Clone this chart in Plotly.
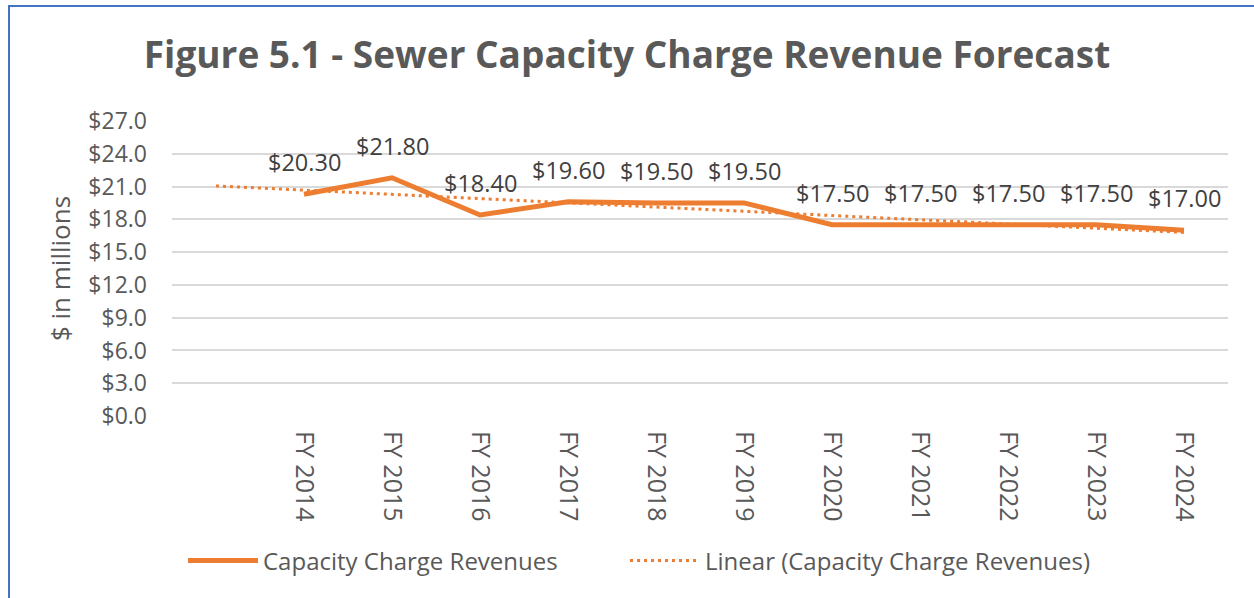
import plotly.graph_objects as go

categories = ["FY 2014", "FY 2015", "FY 2016", "FY 2017", "FY 2018", "FY 2019",
              "FY 2020", "FY 2021", "FY 2022", "FY 2023", "FY 2024"]
revenues = [20.30, 21.80, 18.40, 19.60, 19.50, 19.50, 17.50, 17.50, 17.50, 17.50, 17.00]
# Linear trendline endpoints (blank slot before FY 2014 to FY 2024)
trend_positions = [0, 11]
trend_values = [21.06, 16.80]
y_ticks = [0, 3, 6, 9, 12, 15, 18, 21, 24, 27]

ORANGE = "#ED7D31"
GRAY = "#595959"
FONT = "Open Sans"
NBSP = "\u00a0"

x_pos = list(range(1, len(categories) + 1))

fig = go.Figure()
fig.add_trace(go.Scatter(
    x=x_pos, y=revenues, mode="lines",
    name="Capacity Charge Revenues" + NBSP * 10,
    line=dict(color=ORANGE, width=5),
))
fig.add_trace(go.Scatter(
    x=trend_positions, y=trend_values, mode="lines",
    name="Linear (Capacity Charge Revenues)",
    line=dict(color=ORANGE, width=3, dash="3px,4px"),
))

for xp, v in zip(x_pos, revenues):
    fig.add_annotation(x=xp, y=v, text=f"${v:.2f}", showarrow=False, yshift=32,
                       font=dict(family=FONT, size=23.5, color="#404040"))

fig.update_layout(
    width=1254, height=598,
    margin=dict(l=172, r=26, t=121, b=182),
    paper_bgcolor="white", plot_bgcolor="white",
    font=dict(family=FONT, color=GRAY),
    title=dict(text="<b>Figure 5.1 - Sewer Capacity Charge Revenue Forecast</b>",
               x=0.5, xref="container", xanchor="center",
               y=1 - 55 / 598, yref="container", yanchor="middle",
               font=dict(family=FONT, size=37, color=GRAY)),
    showlegend=True,
    legend=dict(orientation="h", xref="container", yref="container",
                x=0.5 + 12 / 1254, xanchor="center", y=(598 - 561) / 598, yanchor="middle",
                font=dict(family=FONT, size=24, color=GRAY),
                itemwidth=70, tracegroupgap=0),
    xaxis=dict(range=[-0.5, 11.5], tickvals=x_pos, ticktext=categories,
               tickangle=90, showgrid=False, zeroline=False, showline=False,
               ticks="", tickfont=dict(family=FONT, size=25, color=GRAY),
               ticklabelstandoff=14),
    yaxis=dict(range=[0, 27], tickvals=y_ticks,
               ticktext=[f"${t:.1f}" for t in y_ticks],
               showgrid=True, gridcolor="#D9D9D9", gridwidth=1.5,
               zeroline=False, showline=False, ticks="",
               tickfont=dict(family=FONT, size=23, color=GRAY),
               ticklabelstandoff=24,
               title=dict(text="$ in millions", standoff=10,
                          font=dict(family=FONT, size=26, color=GRAY))),
)

fig.add_shape(type="rect", xref="paper", yref="paper",
              x0=(9 - 172) / 1056, x1=(1270 - 172) / 1056,
              y0=(416 - 620) / 295, y1=(416 - 6) / 295,
              line=dict(color="#4472C4", width=2), fillcolor="rgba(0,0,0,0)",
              layer="below")

fig.write_html("out.html", config={"displayModeBar": False},
               post_script="document.body.style.margin='0';document.body.style.overflow='hidden';")
